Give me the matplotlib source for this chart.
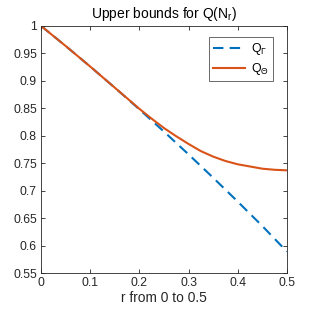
import matplotlib
matplotlib.use("Agg")
import matplotlib.pyplot as plt

plt.rcParams['font.family'] = ['Liberation Sans', 'DejaVu Sans']
plt.rcParams['mathtext.fontset'] = 'custom'
plt.rcParams['mathtext.rm'] = 'Liberation Sans'
plt.rcParams['mathtext.it'] = 'Liberation Sans'

r_gamma = [0, 0.05, 0.1, 0.15, 0.2, 0.25, 0.3, 0.35, 0.4, 0.45, 0.5]
q_gamma = [1.0, 0.9635, 0.926, 0.8875, 0.848, 0.8075, 0.766, 0.7235, 0.680, 0.6355, 0.589]

r_theta = [0, 0.05, 0.1, 0.15, 0.2, 0.225, 0.25, 0.275, 0.3, 0.325, 0.35,
           0.375, 0.4, 0.425, 0.45, 0.475, 0.5]
q_theta = [1.0, 0.9635, 0.926, 0.8875, 0.849, 0.831, 0.814, 0.799, 0.785, 0.772, 0.762,
           0.754, 0.748, 0.744, 0.740, 0.738, 0.737]

blue = (0, 0.447, 0.741)
orange = (0.85, 0.325, 0.098)
gray = (0.15, 0.15, 0.15)

fig = plt.figure(figsize=(3.16, 3.09), dpi=100)
ax = fig.add_axes([0.130, 0.1165, 0.778, 0.7995])

ax.plot(r_gamma, q_gamma, '--', color=blue, lw=1.5, dashes=(5, 3), label=r'Q$_\Gamma$')
ax.plot(r_theta, q_theta, '-', color=orange, lw=1.5, label=r'Q$_\Theta$')

ax.set_xlim(0, 0.5)
ax.set_ylim(0.55, 1)
ax.set_xticks([0, 0.1, 0.2, 0.3, 0.4, 0.5])
ax.set_xticklabels(['0', '0.1', '0.2', '0.3', '0.4', '0.5'])
ax.set_yticks([0.55, 0.6, 0.65, 0.7, 0.75, 0.8, 0.85, 0.9, 0.95, 1])
ax.set_yticklabels(['0.55', '0.6', '0.65', '0.7', '0.75', '0.8', '0.85', '0.9', '0.95', '1'])
ax.tick_params(direction='in', top=True, right=True, length=3, width=0.6,
               labelsize=8.8, colors=gray, pad=3)
for s in ax.spines.values():
    s.set_color(gray)
    s.set_linewidth(0.6)

ax.set_title(r'Upper bounds for Q(N$_r$)', fontsize=10, color='black', pad=6)
ax.set_xlabel('r from 0 to 0.5', fontsize=9.9, color=gray, labelpad=1)

leg = ax.legend(loc='upper right', bbox_to_anchor=(0.943, 0.955), fontsize=8.8,
                frameon=True, fancybox=False, handlelength=2.6, handletextpad=0.5,
                borderaxespad=0, borderpad=0.35, labelspacing=0.3, edgecolor=gray)
leg.get_frame().set_linewidth(0.6)

fig.savefig('out.png', dpi=100)
